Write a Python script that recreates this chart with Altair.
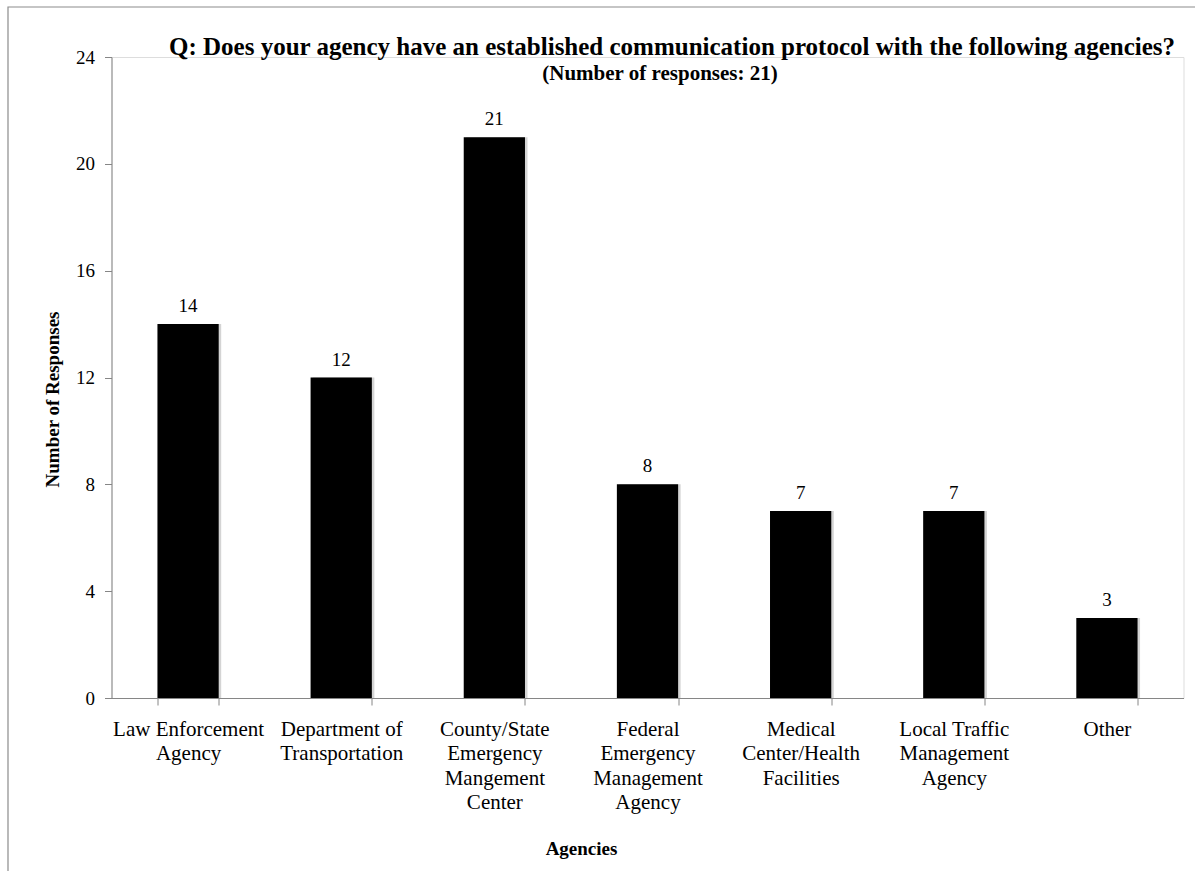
import altair as alt
import pandas as pd

# ---- data ----
agencies = [
    "Law Enforcement|Agency",
    "Department of|Transportation",
    "County/State|Emergency|Mangement|Center",
    "Federal|Emergency|Management|Agency",
    "Medical|Center/Health|Facilities",
    "Local Traffic|Management|Agency",
    "Other",
]
responses = [14, 12, 21, 8, 7, 7, 3]
y_ticks = [0, 4, 8, 12, 16, 20, 24]

title_text = "Q: Does your agency have an established communication protocol with the following agencies?"
subtitle_text = "(Number of responses: 21)"
x_title = "Agencies"
y_title = "Number of Responses"

df = pd.DataFrame({"agency": agencies, "responses": responses})
df_title = pd.DataFrame({"t": [title_text]})
df_sub = pd.DataFrame({"t": [subtitle_text]})
df_frame = pd.DataFrame({"f": [0]})

FONT = "Liberation Serif"
AXIS_GRAY = "#868686"
W, H = 1072, 641

x_enc = alt.X(
    "agency:N",
    sort=None,
    scale=alt.Scale(paddingInner=0.6, paddingOuter=0.3),
    axis=alt.Axis(
        title=x_title,
        labelExpr="split(datum.label, '|')",
        labelAngle=0,
        labelFontSize=21,
        labelLineHeight=24.5,
        labelPadding=13,
        labelOverlap=False,
        labelLimit=400,
        labelColor="black",
        labelFont=FONT,
        tickBand="extent",
        tickSize=7,
        tickColor=AXIS_GRAY,
        domainColor=AXIS_GRAY,
        titleFont=FONT,
        titleFontSize=19,
        titleFontWeight="bold",
        titleColor="black",
        titleX=469.5,
        titleY=156,
        titleBaseline="alphabetic",
        titleAlign="center",
        grid=False,
    ),
)
y_enc = alt.Y(
    "responses:Q",
    scale=alt.Scale(domain=[0, 24], nice=False),
    axis=alt.Axis(
        title=y_title,
        values=y_ticks,
        labelFontSize=19,
        labelFont=FONT,
        labelColor="black",
        labelPadding=10,
        tickSize=7,
        tickColor=AXIS_GRAY,
        domainColor=AXIS_GRAY,
        titleFont=FONT,
        titleFontSize=19,
        titleFontWeight="bold",
        titleColor="black",
        titleAngle=270,
        titleX=-53.5,
        titleY=342,
        titleBaseline="alphabetic",
        titleAlign="center",
        grid=False,
    ),
)

base = alt.Chart(df).encode(x=x_enc, y=y_enc)

shadow = base.mark_bar(color="#d4d4d4", xOffset=2.5)
bars = base.mark_bar(color="black")
values = base.mark_text(
    dy=-12, baseline="alphabetic", fontSize=19, font=FONT, color="black"
).encode(text="responses:Q")

title_layer = alt.Chart(df_title).mark_text(
    font=FONT, fontSize=25, fontWeight="bold", color="black",
    align="center", baseline="alphabetic",
).encode(text="t:N", x=alt.value(560.5), y=alt.value(-2))

sub_layer = alt.Chart(df_sub).mark_text(
    font=FONT, fontSize=21, fontWeight="bold", color="black",
    align="center", baseline="alphabetic",
).encode(text="t:N", x=alt.value(548.5), y=alt.value(23))

frame = alt.Chart(df_frame).mark_rect(
    fillOpacity=0, stroke="#8c8c8c", strokeWidth=1.2
).encode(x=alt.value(-103.5), x2=alt.value(1100), y=alt.value(-50), y2=alt.value(830))

chart = (
    alt.layer(frame, shadow, bars, values, title_layer, sub_layer)
    .properties(
        width=W,
        height=H,
        autosize=alt.AutoSizeParams(type="none"),
        padding={"left": 111.5, "top": 57, "right": 11.5, "bottom": 173},
    )
    .configure_view(stroke=None)
    .configure(font=FONT, background="white")
)

chart.save("out.html", embed_options={"renderer": "svg", "actions": False})
